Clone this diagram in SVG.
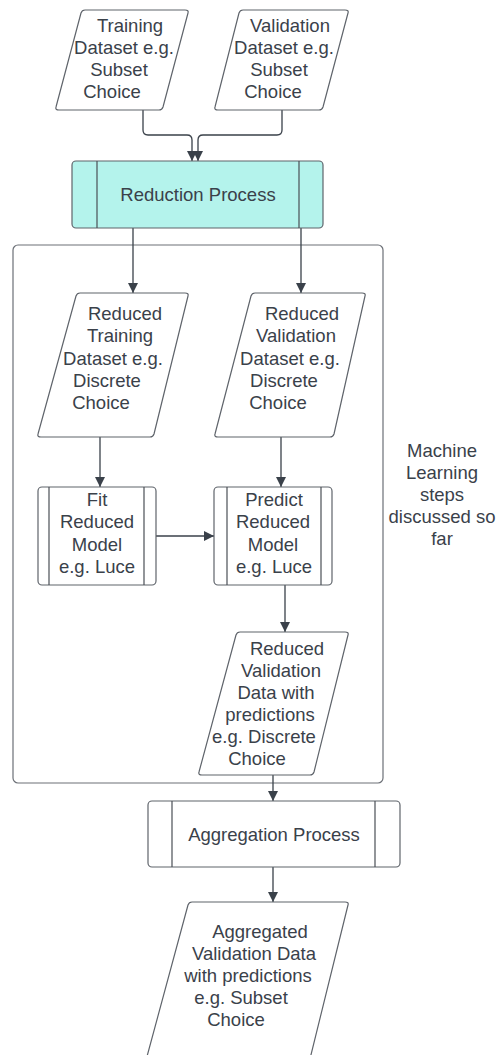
<svg xmlns="http://www.w3.org/2000/svg" width="497" height="1055" viewBox="0 0 497 1055">
  <style>
    .shape { fill: #ffffff; stroke: #5f646b; stroke-width: 1.2; stroke-linejoin: round; }
    .proc { fill: #b4f3ec; stroke: #5f646b; stroke-width: 1.2; }
    .bar { stroke: #4a4f56; stroke-width: 1.2; }
    .wire { fill: none; stroke: #3a414a; stroke-width: 1.3; }
    .frame { fill: none; stroke: #6c7077; stroke-width: 1.2; }
    text { font-family: "Liberation Sans", Arial, sans-serif; font-size: 18.5px; fill: #3a414a; text-anchor: middle; }
  </style>
  <defs>
    <marker id="arrow" markerUnits="userSpaceOnUse" markerWidth="12" markerHeight="12" refX="10" refY="5" orient="auto">
      <path d="M0,0 L10,5 L0,10 Z" fill="#3a414a"/>
    </marker>
  </defs>
  <rect width="497" height="1055" fill="#ffffff"/>

  <!-- container for the ML steps -->
  <g id="ml-frame">
    <rect class="frame" x="13" y="245" width="370" height="538" rx="5"/>
    <text x="442" y="457">Machine</text>
    <text x="442" y="479">Learning</text>
    <text x="442" y="501">steps</text>
    <text x="442" y="523">discussed so</text>
    <text x="442" y="545">far</text>
  </g>

  <!-- connectors -->
  <g id="connectors">
    <path class="wire" d="M143,110 V130 Q143,135 148,135 H187 Q192,135 192,140 V161" marker-end="url(#arrow)"/>
    <path class="wire" d="M282,110 V130 Q282,135 277,135 H203 Q198,135 198,140 V161" marker-end="url(#arrow)"/>
    <path class="wire" d="M133,228 V293" marker-end="url(#arrow)"/>
    <path class="wire" d="M301,228 V293" marker-end="url(#arrow)"/>
    <path class="wire" d="M100,437 V487" marker-end="url(#arrow)"/>
    <path class="wire" d="M281,437 V487" marker-end="url(#arrow)"/>
    <path class="wire" d="M156,536 H214" marker-end="url(#arrow)"/>
    <path class="wire" d="M285,585 V632" marker-end="url(#arrow)"/>
    <path class="wire" d="M273,775 V801" marker-end="url(#arrow)"/>
    <path class="wire" d="M273,867 V902" marker-end="url(#arrow)"/>
  </g>

  <g id="training-dataset">
    <path class="shape" d="M85,10 H185 Q189,10 188,13 L163,107 Q162,110 159,110 H59 Q55,110 56,107 L81,13 Q82,10 85,10 Z"/>
    <text x="130" y="32">Training</text>
    <text x="124" y="54">Dataset e.g.</text>
    <text x="119" y="76">Subset</text>
    <text x="112" y="98">Choice</text>
  </g>

  <g id="validation-dataset">
    <path class="shape" d="M243,10 H345 Q349,10 348,13 L323,107 Q322,110 319,110 H218 Q214,110 215,107 L239,13 Q240,10 243,10 Z"/>
    <text x="290" y="32">Validation</text>
    <text x="284" y="54">Dataset e.g.</text>
    <text x="279" y="76">Subset</text>
    <text x="273" y="98">Choice</text>
  </g>

  <g id="reduction-process">
    <rect class="proc" x="72" y="161" width="251" height="67" rx="4"/>
    <line class="bar" x1="97" y1="161" x2="97" y2="228"/>
    <line class="bar" x1="299" y1="161" x2="299" y2="228"/>
    <text x="198" y="201">Reduction Process</text>
  </g>

  <g id="reduced-training">
    <path class="shape" d="M80,293 H185 Q189,293 188,296 L154,434 Q153,437 150,437 H41 Q37,437 38,434 L76,296 Q77,293 80,293 Z"/>
    <text x="125" y="320">Reduced</text>
    <text x="120" y="342">Training</text>
    <text x="113" y="365">Dataset e.g.</text>
    <text x="107" y="387">Discrete</text>
    <text x="101" y="409">Choice</text>
  </g>

  <g id="reduced-validation">
    <path class="shape" d="M255,293 H362 Q366,293 365,296 L334,434 Q333,437 330,437 H218 Q214,437 215,434 L251,296 Q252,293 255,293 Z"/>
    <text x="302" y="320">Reduced</text>
    <text x="296" y="342">Validation</text>
    <text x="290" y="365">Dataset e.g.</text>
    <text x="284" y="387">Discrete</text>
    <text x="278" y="409">Choice</text>
  </g>

  <g id="fit-model">
    <rect class="shape" x="38" y="487" width="118" height="98" rx="4"/>
    <line class="bar" x1="49" y1="487" x2="49" y2="585"/>
    <line class="bar" x1="144" y1="487" x2="144" y2="585"/>
    <text x="97" y="506">Fit</text>
    <text x="97" y="528">Reduced</text>
    <text x="97" y="551">Model</text>
    <text x="97" y="573">e.g. Luce</text>
  </g>

  <g id="predict-model">
    <rect class="shape" x="214" y="487" width="118" height="98" rx="4"/>
    <line class="bar" x1="227" y1="487" x2="227" y2="585"/>
    <line class="bar" x1="321" y1="487" x2="321" y2="585"/>
    <text x="274" y="506">Predict</text>
    <text x="273" y="528">Reduced</text>
    <text x="273" y="551">Model</text>
    <text x="274" y="573">e.g. Luce</text>
  </g>

  <g id="reduced-predictions">
    <path class="shape" d="M240,632 H345 Q349,632 348,635 L314,772 Q313,775 310,775 H202 Q198,775 199,772 L236,635 Q237,632 240,632 Z"/>
    <text x="287" y="655">Reduced</text>
    <text x="281" y="677">Validation</text>
    <text x="276" y="699">Data with</text>
    <text x="270" y="721">predictions</text>
    <text x="264" y="743">e.g. Discrete</text>
    <text x="257" y="765">Choice</text>
  </g>

  <g id="aggregation-process">
    <rect class="shape" x="148" y="801" width="252" height="66" rx="4"/>
    <line class="bar" x1="172" y1="801" x2="172" y2="867"/>
    <line class="bar" x1="375" y1="801" x2="375" y2="867"/>
    <text x="274" y="841">Aggregation Process</text>
  </g>

  <g id="aggregated-predictions">
    <path class="shape" d="M192,902 H345 Q349,902 348,905 L306,1075 H142 L188,905 Q189,902 192,902 Z"/>
    <text x="260" y="938">Aggregated</text>
    <text x="254" y="960">Validation Data</text>
    <text x="248" y="982">with predictions</text>
    <text x="241" y="1004">e.g. Subset</text>
    <text x="236" y="1026">Choice</text>
  </g>
</svg>
